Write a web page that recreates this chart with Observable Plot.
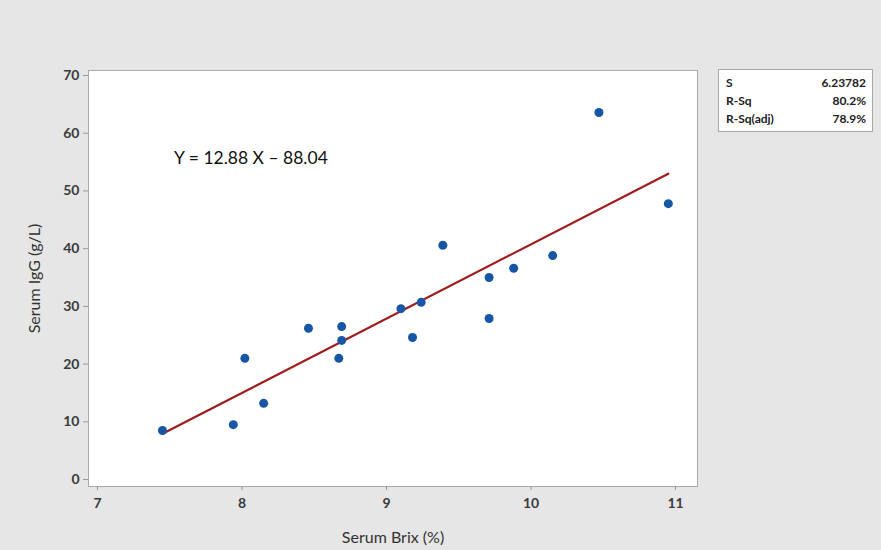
<!DOCTYPE html>
<html>
<head>
<meta charset="utf-8">
<script src="https://cdn.jsdelivr.net/npm/d3@7"></script>
<script src="https://cdn.jsdelivr.net/npm/@observablehq/plot@0.6"></script>
<style>
  html, body { margin: 0; padding: 0; background: #e6e6e6; }
  #wrap { position: relative; width: 881px; height: 550px; font-family: Lato, "Open Sans", sans-serif; }
  #stats { position: absolute; left: 718px; top: 69px; width: 155px; border: 1px solid #a8a8a8; background: #fff;
           font-family: Lato, sans-serif; font-size: 12px; font-weight: 700; color: #222; padding: 5px 6px 2px 7px; box-sizing: border-box; }
  #stats .row { display: flex; justify-content: space-between; height: 18px; line-height: 16px; }
</style>
</head>
<body>
<div id="wrap"><div id="chart"></div><div id="stats"></div></div>
<script>
// Data
const brix = [7.45, 7.94, 8.02, 8.15, 8.46, 8.69, 8.69, 8.67, 9.10, 9.18, 9.24, 9.39, 9.71, 9.71, 9.88, 10.15, 10.47, 10.95];
const igg  = [8.5, 9.5, 21.0, 13.2, 26.2, 26.5, 24.1, 21.0, 29.6, 24.6, 30.7, 40.6, 35.0, 27.9, 36.6, 38.8, 63.6, 47.8];
const slope = 12.88;
const intercept = -88.04;
const equationLabel = ["Y = 12.88 X \u2013 88.04"];
const statNames = ["S", "R-Sq", "R-Sq(adj)"];
const statValues = ["6.23782", "80.2%", "78.9%"];
const xTicks = [7, 8, 9, 10, 11];
const yTicks = [0, 10, 20, 30, 40, 50, 60, 70];

const points = brix.map((x, i) => ({x, y: igg[i]}));
const xMin = d3.min(brix), xMax = d3.max(brix);
const fit = [xMin, xMax].map(x => ({x, y: slope * x + intercept}));

const chart = Plot.plot({
  width: 881,
  height: 550,
  marginLeft: 88,
  marginRight: 184,
  marginTop: 70,
  marginBottom: 64,
  style: {background: "#e6e6e6", fontFamily: "Lato, 'Open Sans', sans-serif"},
  x: {domain: [6.938, 11.152]},
  y: {domain: [-1.21, 70.87]},
  marks: [
    Plot.frame({fill: "white", stroke: "#a9a9a9"}),
    Plot.axisX({ticks: xTicks, tickFormat: d3.format("d"), tickSize: 4, tickPadding: 8, fontSize: 14, fontWeight: 700, color: "#3a3a3a", stroke: "#999",
      label: "Serum Brix (%)", labelAnchor: "center", labelArrow: "none", labelOffset: 56}),
    Plot.axisY({ticks: yTicks, tickSize: 5, tickPadding: 4, fontSize: 14, fontWeight: 700, color: "#3a3a3a", stroke: "#999",
      label: "Serum IgG (g/L)", labelAnchor: "center", labelArrow: "none", labelOffset: 60}),
    Plot.line(fit, {x: "x", y: "y", stroke: "#9e1b1e", strokeWidth: 2.2}),
    Plot.dot(points, {x: "x", y: "y", r: 4.5, fill: "#1756a5", stroke: "none"}),
    Plot.text(equationLabel, {x: 7.53, y: 55.7, text: d => d, textAnchor: "start", fontSize: 17.5, fill: "#111"})
  ]
});
chart.querySelectorAll('[aria-label="x-axis label"] text, [aria-label="y-axis label"] text').forEach(t => {
  t.style.fontSize = "16px"; t.style.fontWeight = "400"; t.setAttribute("fill", "#333");
});
document.getElementById("chart").appendChild(chart);

const stats = d3.select("#stats");
statNames.forEach((n, i) => {
  const r = stats.append("div").attr("class", "row");
  r.append("span").text(n);
  r.append("span").text(statValues[i]);
});
</script>
</body>
</html>
